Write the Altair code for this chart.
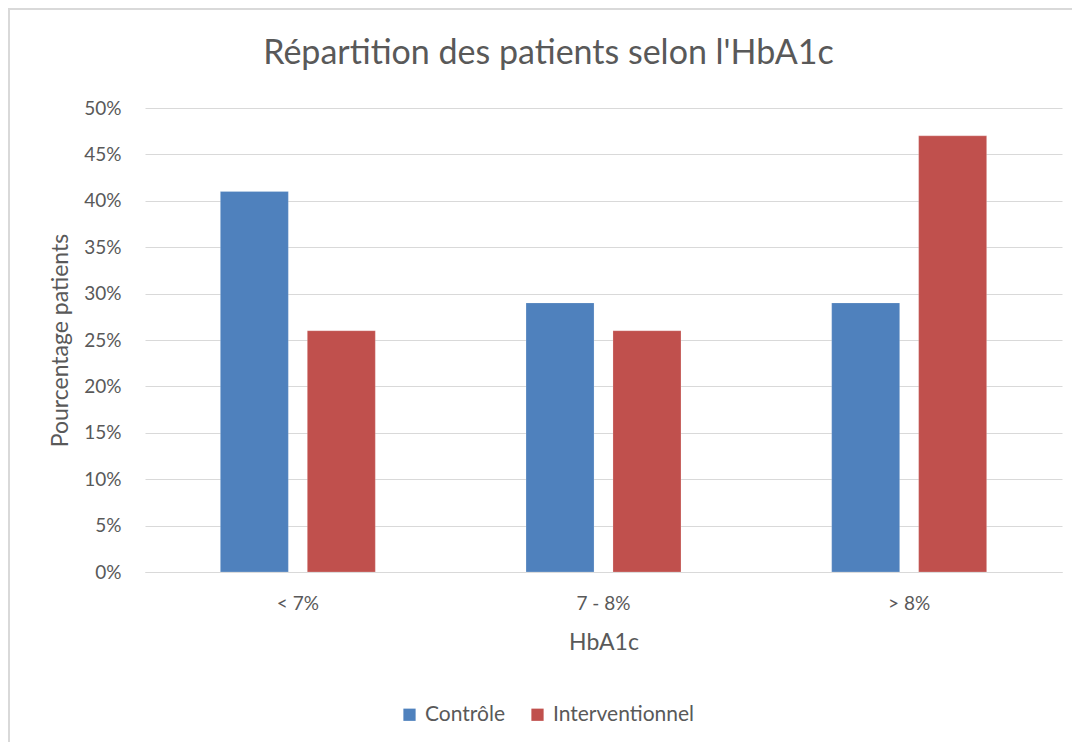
import altair as alt
import pandas as pd

categories = ["< 7%", "7 - 8%", "> 8%"]
series = ["Contrôle", "Interventionnel"]
controle = [0.41, 0.29, 0.29]
interventionnel = [0.26, 0.26, 0.47]
colors = ["#4F81BD", "#C0504D"]

rows = []
for c, v in zip(categories, controle):
    rows.append({"HbA1c": c, "Groupe": series[0], "val": v})
for c, v in zip(categories, interventionnel):
    rows.append({"HbA1c": c, "Groupe": series[1], "val": v})
df = pd.DataFrame(rows)

FONT = "Lato"
TXT = "#595959"

bars = alt.Chart(df).mark_bar(stroke="white", strokeWidth=0.5, strokeOpacity=0.4).encode(
    x=alt.X("HbA1c:N", sort=categories,
            scale=alt.Scale(paddingInner=0.493, paddingOuter=0.2465),
            axis=alt.Axis(title="HbA1c", labelAngle=0, ticks=False, domainColor="#d9d9d9",
                          labelPadding=22, titlePadding=18)),
    xOffset=alt.XOffset("Groupe:N", sort=series,
                        scale=alt.Scale(paddingInner=0.218, paddingOuter=0)),
    y=alt.Y("val:Q", scale=alt.Scale(domain=[0, 0.5]),
            axis=alt.Axis(title="Pourcentage patients", format=".0%",
                          values=[i / 20 for i in range(11)], ticks=False, domain=False,
                          labelOverlap=False,
                          gridColor="#d9d9d9", labelPadding=24, titlePadding=11)),
    color=alt.Color("Groupe:N", sort=series,
                    scale=alt.Scale(domain=series, range=colors),
                    legend=alt.Legend(title=None, orient="none", direction="horizontal",
                                      legendX=254, legendY=596, symbolType="square",
                                      symbolSize=150, symbolStrokeWidth=0,
                                      labelFontSize=21, labelColor=TXT, labelFont=FONT,
                                      columnPadding=22, labelOffset=5)),
)

frame = alt.Chart(df).mark_rect(fill=None, stroke="#d9d9d9", strokeWidth=1.5).encode(
    x=alt.value(-136), x2=alt.value(931), y=alt.value(-99), y2=alt.value(636)
)

chart = alt.layer(bars, frame).properties(
    width=917, height=464,
    title=alt.Title("Répartition des patients selon l'HbA1c", fontSize=34, font=FONT,
                    color=TXT, fontWeight="normal", offset=-63, frame="group", dx=-55),
    padding={"left": 137, "top": 100, "right": 10, "bottom": 170},
    autosize=alt.AutoSizeParams(type="none"),
).configure_view(stroke=None).configure_axis(
    labelFont=FONT, titleFont=FONT, labelFontSize=19, titleFontSize=23,
    labelColor=TXT, titleColor=TXT, titleFontWeight="normal", grid=True,
).configure_axisX(grid=False)

chart.save("out.html", embed_options={"renderer": "svg", "actions": False})
